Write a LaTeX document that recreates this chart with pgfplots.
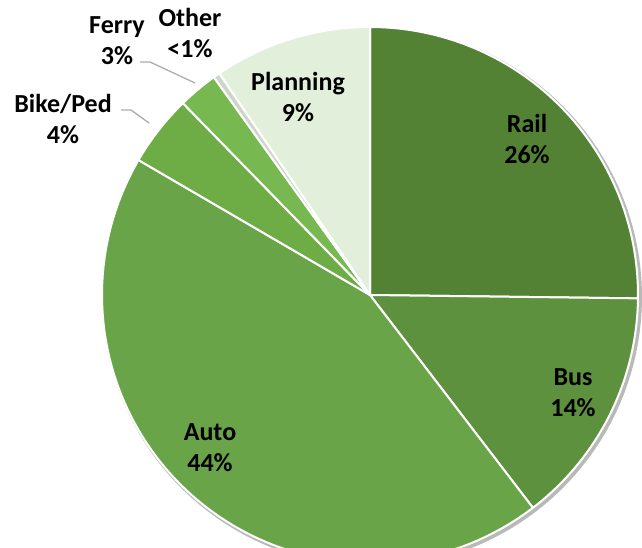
\documentclass[border=0pt]{standalone}
\usepackage{pgfplots}
\pgfplotsset{compat=1.18}
\usepackage{fontspec}
\setmainfont{Carlito}
\definecolor{railc}{RGB}{84,130,53}
\definecolor{busc}{RGB}{94,145,62}
\definecolor{autoc}{RGB}{106,164,72}
\definecolor{bikec}{RGB}{110,172,70}
\definecolor{ferryc}{RGB}{120,184,80}
\definecolor{otherc}{RGB}{205,214,200}
\definecolor{planc}{RGB}{226,239,218}
% shares (percent of the circle), clockwise from 12 o'clock
% Rail 25.2, Bus 14.4, Auto 43.8, Bike/Ped 4.3, Ferry 2.4, Other 0.4, Planning 9.5
\begin{document}
\begin{tikzpicture}
\begin{axis}[
  name=pie,
  scale only axis, width=642pt, height=548pt,
  xmin=0, xmax=642, ymin=0, ymax=548, y dir=reverse,
  hide axis, clip=true, clip bounding box=upper bound,
  variable=\t, samples=80,
  every axis plot/.append style={line join=round},
]
% rim shadow
\addplot[draw=gray!55, line width=4pt, domain=0:360, samples=160] ({372+268*sin(t)},{297-268*cos(t)});
\addplot[fill=railc, draw=white, line width=2pt, domain={3.6*0}:{3.6*25.2}] ({370+268*sin(t)},{295-268*cos(t)}) -- (axis cs:370,295) -- cycle;
\addplot[fill=busc, draw=white, line width=2pt, domain={3.6*25.2}:{3.6*39.6}] ({370+268*sin(t)},{295-268*cos(t)}) -- (axis cs:370,295) -- cycle;
\addplot[fill=autoc, draw=white, line width=2pt, domain={3.6*39.6}:{3.6*83.4}] ({370+268*sin(t)},{295-268*cos(t)}) -- (axis cs:370,295) -- cycle;
\addplot[fill=bikec, draw=white, line width=2pt, domain={3.6*83.4}:{3.6*87.7}] ({370+268*sin(t)},{295-268*cos(t)}) -- (axis cs:370,295) -- cycle;
\addplot[fill=ferryc, draw=white, line width=2pt, domain={3.6*87.7}:{3.6*90.1}] ({370+268*sin(t)},{295-268*cos(t)}) -- (axis cs:370,295) -- cycle;
\addplot[fill=otherc, draw=white, line width=2pt, domain={3.6*90.1}:{3.6*90.5}] ({370+268*sin(t)},{295-268*cos(t)}) -- (axis cs:370,295) -- cycle;
\addplot[fill=planc, draw=white, line width=2pt, domain={3.6*90.5}:{3.6*100}] ({370+268*sin(t)},{295-268*cos(t)}) -- (axis cs:370,295) -- cycle;
% leader lines
\addplot[draw=gray!65, line width=1.3pt] coordinates {(140,62) (150,62) (195,83)};
\addplot[draw=gray!65, line width=1.3pt] coordinates {(121,110) (131,110) (149,123)};
% labels
\begin{scope}[every node/.style={align=center, font=\fontsize{26}{31}\selectfont\bfseries, text=black}]
\node at (axis cs:527,139) {Rail\\26\%};
\node at (axis cs:573,393) {Bus\\14\%};
\node at (axis cs:210,448) {Auto\\44\%};
\node at (axis cs:298,97) {Planning\\9\%};
\node at (axis cs:63,119) {Bike/Ped\\4\%};
\node at (axis cs:117,41) {Ferry\\3\%};
\node at (axis cs:190,33) {Other\\<1\%};
\end{scope}
\end{axis}
\pgfresetboundingbox
\path[use as bounding box] (pie.south west) rectangle (pie.north east);
\end{tikzpicture}
\end{document}
